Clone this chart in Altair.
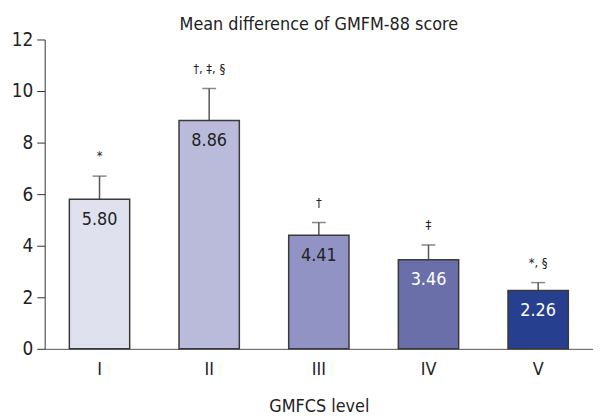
import altair as alt
import pandas as pd

levels = ["I", "II", "III", "IV", "V"]
means = [5.80, 8.86, 4.41, 3.46, 2.26]
upper = [6.70, 10.10, 4.90, 4.03, 2.57]
marks = ["*", "†, ‡, §", "†", "‡", "*, §"]
colors = ["#dfe1ef", "#babbdb", "#9193c4", "#6a6fa9", "#263f8e"]
label_colors = ["#222222", "#222222", "#222222", "#ffffff", "#ffffff"]

df = pd.DataFrame({
    "level": levels, "mean": means, "upper": upper, "mark": marks,
    "color": colors, "lcolor": label_colors,
    "label": [f"{m:.2f}" for m in means],
})

FONT = "Liberation Sans Narrow, DejaVu Sans Condensed, Roboto, sans-serif"

x = alt.X("level:N", sort=levels, title="GMFCS level",
          scale=alt.Scale(paddingInner=0.45, paddingOuter=0.225),
          axis=alt.Axis(labelAngle=0, ticks=False, domainColor="#555555",
                        labelFontSize=18, labelColor="#222222", labelPadding=12,
                        titleFontSize=18, titleFontWeight="normal", titleColor="#222222",
                        titlePadding=19, labelFont=FONT, titleFont=FONT))
y = alt.Y("mean:Q", title=None,
          scale=alt.Scale(domain=[0, 12], nice=False),
          axis=alt.Axis(values=[0, 2, 4, 6, 8, 10, 12], grid=False, tickSize=8,
                        tickColor="#333333", domainColor="#333333",
                        labelFontSize=19, labelColor="#222222", labelPadding=4,
                        labelFont=FONT))

base = alt.Chart(df)

err = base.mark_rule(color="#555555", strokeWidth=1.5).encode(
    x=x, y=y, y2="upper:Q")
cap = base.mark_tick(color="#555555", thickness=1.5, size=14, orient="horizontal").encode(
    x=x, y="upper:Q")
bars = base.mark_bar(stroke="#3a3a3a", strokeWidth=1.5).encode(
    x=x, y=y, fill=alt.Fill("color:N", scale=None))
vals = base.mark_text(baseline="top", dy=12, fontSize=18, font=FONT).encode(
    x=x, y=y, text="label:N", color=alt.Color("lcolor:N", scale=None))
sig = base.mark_text(baseline="bottom", dy=-13, fontSize=13, font=FONT, color="#222222").encode(
    x=x, y="upper:Q", text="mark:N")

chart = alt.layer(err, cap, bars, vals, sig).properties(
    width=553, height=312,
    title=alt.TitleParams("Mean difference of GMFM-88 score", fontSize=18,
                          fontWeight="normal", font=FONT, color="#222222",
                          anchor="middle", offset=5, dy=8),
    autosize=alt.AutoSizeParams(type="none"),
    padding={"left": 37, "top": 30, "right": 0, "bottom": 70},
).configure_view(stroke=None)

chart.save("out.html", embed_options={"renderer": "svg", "actions": False})
